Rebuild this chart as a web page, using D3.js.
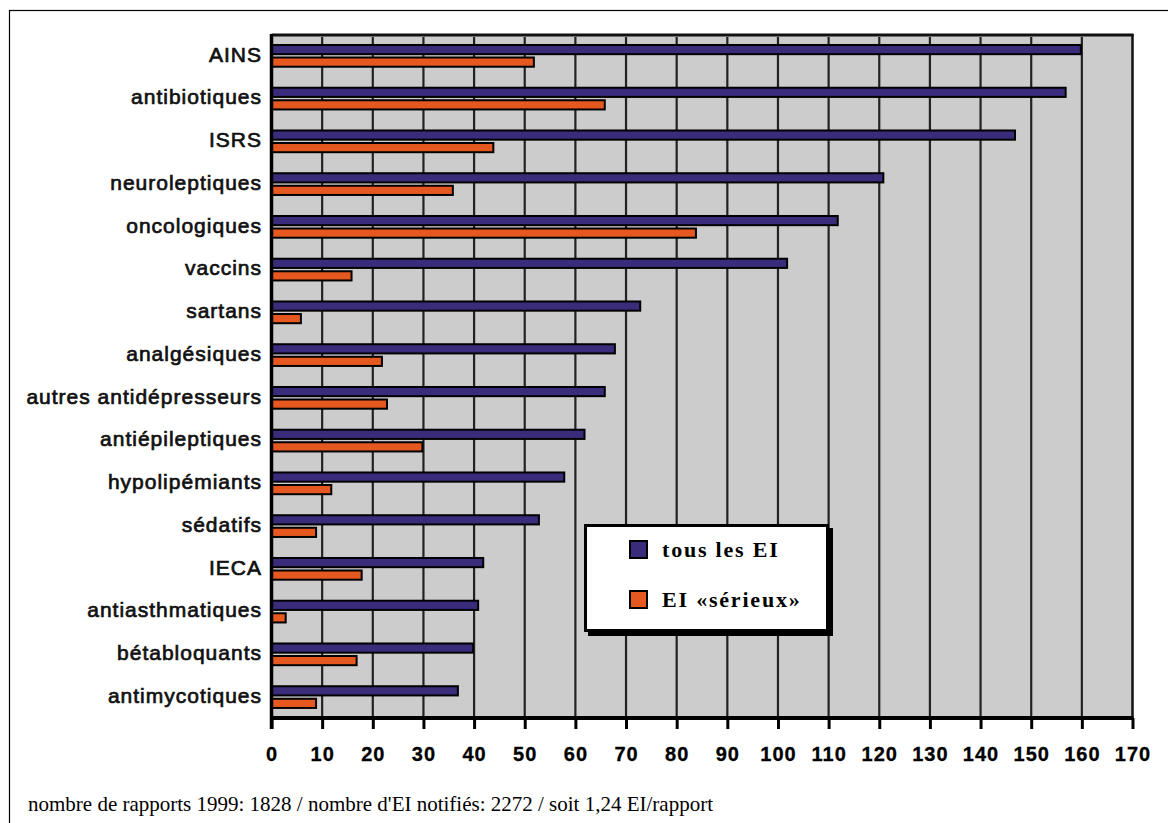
<!DOCTYPE html>
<html>
<head>
<meta charset="utf-8">
<script src="https://cdn.jsdelivr.net/npm/d3@7"></script>
<style>
  html, body { margin: 0; padding: 0; background: #ffffff; }
  svg { display: block; }
</style>
</head>
<body>
<svg id="chart" width="1168" height="823"></svg>
<script>
// Drug classes, top to bottom
const categories = [
  "AINS", "antibiotiques", "ISRS", "neuroleptiques", "oncologiques",
  "vaccins", "sartans", "analgésiques", "autres antidépresseurs",
  "antiépileptiques", "hypolipémiants", "sédatifs", "IECA",
  "antiasthmatiques", "bétabloquants", "antimycotiques"
];
// Number of adverse events (all) per class
const tousEI = [160, 157, 147, 121, 112, 102, 73, 68, 66, 62, 58, 53, 42, 41, 40, 37];
// Number of "serious" adverse events per class
const eiSerieux = [52, 66, 44, 36, 84, 16, 6, 22, 23, 30, 12, 9, 18, 3, 17, 9];
// Axis ticks
const ticks = [0, 10, 20, 30, 40, 50, 60, 70, 80, 90, 100, 110, 120, 130, 140, 150, 160, 170];
const seriesNames = ["tous les EI", "EI «sérieux»"];
const footnote = "nombre de rapports 1999: 1828 / nombre d'EI notifiés: 2272 / soit 1,24 EI/rapport";

const BLUE = "#3b2b7b";
const ORANGE = "#e5581f";
const PLOT_BG = "#cccccc";

const svg = d3.select("#chart");

// Outer frame (only left and top edges fall inside the page)
svg.append("rect")
  .attr("x", 9.5).attr("y", 10.5)
  .attr("width", 1200).attr("height", 900)
  .attr("fill", "none").attr("stroke", "#000").attr("stroke-width", 1.2);

const plotL = 271.5, plotR = 1132.5, plotT = 34, plotB = 718;

const x = d3.scaleLinear().domain([0, 170]).range([plotL, plotR]);
const y = d3.scaleBand().domain(categories).range([plotT, plotB]).paddingInner(0).paddingOuter(0);

// Plot background
svg.append("rect")
  .attr("x", plotL).attr("y", plotT)
  .attr("width", plotR - plotL).attr("height", plotB - plotT)
  .attr("fill", PLOT_BG);

// Vertical grid lines
svg.append("g")
  .selectAll("line")
  .data(ticks.filter(t => t > 0 && t < 170))
  .join("line")
  .attr("x1", d => x(d)).attr("x2", d => x(d))
  .attr("y1", plotT + 3).attr("y2", plotB)
  .attr("stroke", "#222").attr("stroke-width", 2.2);

// Bars
const rows = categories.map((c, i) => ({ c, a: tousEI[i], s: eiSerieux[i] }));
const bw = y.bandwidth();

svg.append("g")
  .selectAll("rect")
  .data(rows)
  .join("rect")
  .attr("x", x(0))
  .attr("y", d => y(d.c) + bw * 0.257)
  .attr("width", d => x(d.a) - x(0) - 1)
  .attr("height", bw * 0.215)
  .attr("fill", BLUE)
  .attr("stroke", "#000").attr("stroke-width", 2);

svg.append("g")
  .selectAll("rect")
  .data(rows)
  .join("rect")
  .attr("x", x(0))
  .attr("y", d => y(d.c) + bw * 0.55)
  .attr("width", d => x(d.s) - x(0) - 1)
  .attr("height", bw * 0.215)
  .attr("fill", ORANGE)
  .attr("stroke", "#000").attr("stroke-width", 2);

// Plot frame: top and right edges
svg.append("line")
  .attr("x1", plotL).attr("x2", plotR + 1)
  .attr("y1", plotT + 1).attr("y2", plotT + 1)
  .attr("stroke", "#111").attr("stroke-width", 3);
svg.append("line")
  .attr("x1", plotR).attr("x2", plotR)
  .attr("y1", plotT).attr("y2", plotB)
  .attr("stroke", "#111").attr("stroke-width", 2.5);

// Bottom axis
const xAxis = d3.axisBottom(x)
  .tickValues(ticks)
  .tickSize(11)
  .tickPadding(18)
  .tickFormat(d3.format("d"));

const gx = svg.append("g")
  .attr("transform", `translate(0,${plotB})`)
  .call(xAxis);
gx.select(".domain").attr("stroke", "#000").attr("stroke-width", 4).attr("d", `M${plotL},0H${plotR + 1}`);
gx.selectAll(".tick line").attr("stroke", "#000").attr("stroke-width", 3);
gx.selectAll(".tick text")
  .attr("fill", "#000")
  .attr("stroke", "#000").attr("stroke-width", 0.3)
  .style("font-family", "'Liberation Sans', Arial, sans-serif")
  .style("font-weight", "bold")
  .style("font-size", "20px")
  .style("letter-spacing", "1px");

// Left axis line
svg.append("line")
  .attr("x1", plotL).attr("x2", plotL)
  .attr("y1", plotT).attr("y2", plotB + 11)
  .attr("stroke", "#000").attr("stroke-width", 3.5);

// Category labels
svg.append("g")
  .selectAll("text")
  .data(categories)
  .join("text")
  .attr("x", 262)
  .attr("y", d => y(d) + bw / 2)
  .attr("dy", "0.3em")
  .attr("text-anchor", "end")
  .style("font-family", "'Liberation Sans', Arial, sans-serif")
  .style("font-size", "21px")
  .style("letter-spacing", "1px")
  .attr("fill", "#111")
  .attr("stroke", "#111").attr("stroke-width", 0.7)
  .text(d => d);

// Legend
const lg = svg.append("g").attr("transform", "translate(584,524)");
lg.append("rect").attr("x", 4).attr("y", 4).attr("width", 245).attr("height", 108).attr("fill", "#000");
lg.append("rect").attr("x", 1.5).attr("y", 1.5).attr("width", 242).attr("height", 105)
  .attr("fill", "#fff").attr("stroke", "#000").attr("stroke-width", 3);
const legendItems = [
  { name: seriesNames[0], color: BLUE, y: 16 },
  { name: seriesNames[1], color: ORANGE, y: 66 }
];
legendItems.forEach(it => {
  lg.append("rect").attr("x", 46).attr("y", it.y + 1).attr("width", 17).attr("height", 17)
    .attr("fill", it.color).attr("stroke", "#000").attr("stroke-width", 2);
  lg.append("text")
    .attr("x", 78).attr("y", it.y + 17)
    .style("font-family", "'Liberation Serif', 'Times New Roman', serif")
    .style("font-weight", "bold")
    .style("font-size", "22px")
    .style("letter-spacing", "1.8px")
    .attr("fill", "#000")
    .text(it.name);
});

// Footnote
svg.append("text")
  .attr("x", 28).attr("y", 811)
  .style("font-family", "'Liberation Serif', 'Times New Roman', serif")
  .style("font-size", "21px")
  .attr("fill", "#000")
  .text(footnote);
</script>
</body>
</html>
